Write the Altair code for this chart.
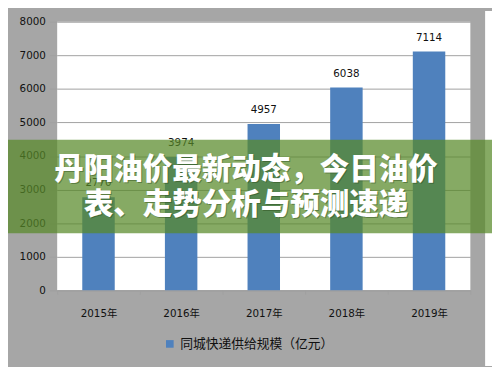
import altair as alt
import pandas as pd

years = ["2015年", "2016年", "2017年", "2018年", "2019年"]
values = [2770, 3974, 4957, 6038, 7114]
series_name = "同城快递供给规模（亿元）"
y_ticks = [0, 1000, 2000, 3000, 4000, 5000, 6000, 7000, 8000]
banner_lines = ["丹阳油价最新动态，今日油价", "表、走势分析与预测速递"]

df = pd.DataFrame({"year": years, "value": values, "series": [series_name] * len(years)})

W, H = 420, 273
FONT = "DejaVu Sans, Noto Sans CJK SC"

base = alt.Chart(df).encode(
    x=alt.X("year:N", sort=years, title=None,
            scale=alt.Scale(paddingInner=0, paddingOuter=0),
            axis=alt.Axis(labelAngle=0, labelFont=FONT, labelFontSize=10.5, labelColor="#111",
                          domainColor="#a0a0a0", tickColor="#a0a0a0", tickSize=4,
                          tickBand="extent", labelPadding=15, grid=False)),
    y=alt.Y("value:Q", title=None,
            scale=alt.Scale(domain=[0, 8000], nice=False),
            axis=alt.Axis(values=y_ticks, format="d", labelOverlap=False,
                          labelFont=FONT, labelFontSize=10.5, labelColor="#111",
                          domain=False, tickColor="#a0a0a0", tickSize=8, labelPadding=4,
                          gridColor="#a0a0a0", gridWidth=1)),
)

bars = base.mark_bar(size=33).encode(
    color=alt.Color("series:N", scale=alt.Scale(range=["#4f81bd"]),
                    legend=alt.Legend(title=None, orient="none", legendX=108, legendY=321,
                                      symbolType="square", symbolSize=60, symbolStrokeWidth=0,
                                      labelFont="Noto Sans CJK SC", labelFontSize=13,
                                      labelColor="#111", symbolOffset=0)),
)

labels = base.mark_text(dy=-9, baseline="bottom", font=FONT, fontSize=10.5, color="#111").encode(
    text=alt.Text("value:Q", format="d"),
)

one = pd.DataFrame({"k": [0]})

# white strip right of gray frame
strip = alt.Chart(one).mark_rect(color="white").encode(
    x=alt.value(435), x2=alt.value(445), y=alt.value(-11), y2=alt.value(350)
)

banner = alt.Chart(one).mark_rect(color="#588928", opacity=0.72).encode(
    x=alt.value(-50), x2=alt.value(445), y=alt.value(120), y2=alt.value(215)
)

text_layers = []
for line, yy in zip(banner_lines, [151, 186]):
    text_layers.append(
        alt.Chart(one).mark_text(font="Noto Sans CJK SC", fontSize=30, fontWeight=900,
                                 color="#2a4a1a", opacity=0.45, baseline="middle").encode(
            x=alt.value(193), y=alt.value(yy + 1), text=alt.value(line))
    )
    text_layers.append(
        alt.Chart(one).mark_text(font="Noto Sans CJK SC", fontSize=30, fontWeight=900,
                                 color="white", baseline="middle").encode(
            x=alt.value(192), y=alt.value(yy), text=alt.value(line))
    )

chart = alt.layer(bars, labels, strip, banner, *text_layers).properties(
    width=W, height=H,
    background="#a6a6a6",
    padding={"left": 50, "top": 11, "right": 22, "bottom": 75},
    autosize=alt.AutoSizeParams(type="none"),
).configure_view(fill="white", stroke=None).configure_axis(zindex=0)

chart.save("out.html", embed_options={"renderer": "svg", "actions": False})
